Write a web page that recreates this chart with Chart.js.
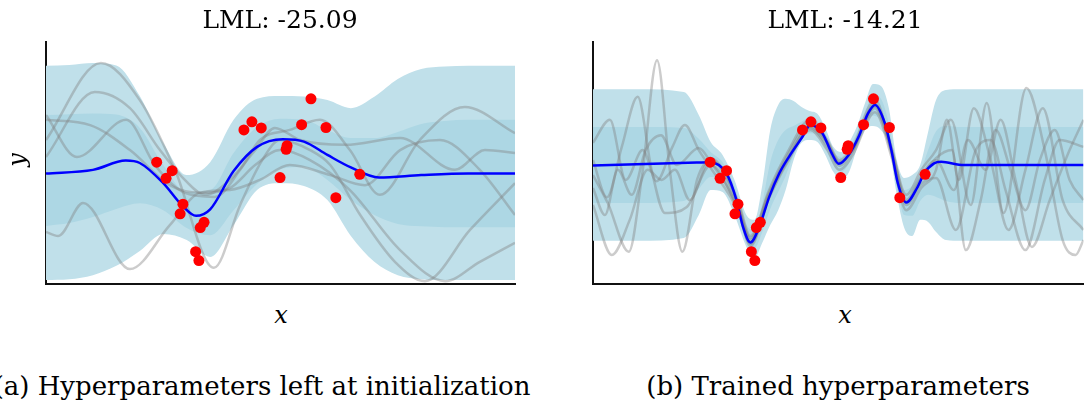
<!DOCTYPE html>
<html>
<head>
<meta charset="utf-8">
<script src="https://cdn.jsdelivr.net/npm/chart.js@4.4.0/dist/chart.umd.min.js"></script>
<style>
  body { margin: 0; background: #fff; width: 1089px; height: 405px; overflow: hidden; position: relative; font-family: 'DejaVu Serif', serif; color: #000; }
  .panel { position: absolute; top: 0; height: 300px; }
  .lbl { position: absolute; white-space: nowrap; line-height: 1; text-align: center; }
  .title { font-size: 25px; width: 300px; top: 7px; }
  .axis { font-size: 24px; font-style: italic; width: 40px; top: 303px; }
  .caption { font-size: 26px; top: 373px; }
</style>
</head>
<body>
<div class="panel" style="left:0;width:540px"><canvas id="chartA" width="540" height="300"></canvas></div>
<div class="panel" style="left:546px;width:543px"><canvas id="chartB" width="543" height="300"></canvas></div>

<div class="lbl title" style="left:130px">LML: -25.09</div>
<div class="lbl title" style="left:695px">LML: -14.21</div>
<div class="lbl axis" style="left:261px">x</div>
<div class="lbl axis" style="left:825px">x</div>
<div class="lbl axis" style="left:-3px;top:148px;transform:rotate(-90deg)">y</div>
<div class="lbl caption" style="left:-35px;width:594px">(a) Hyperparameters left at initialization</div>
<div class="lbl caption" style="left:588px;width:500px">(b) Trained hyperparameters</div>

<script>
// observations (shared by both panels)
const obsX = [2.36, 2.56, 2.69, 2.86, 2.92, 3.19, 3.26, 3.29, 3.37, 4.22, 4.39, 4.59, 4.99, 5.12, 5.14, 5.45, 5.65, 5.97, 6.18, 6.69];
const obsY = [0.02, -0.38, -0.19, -1.26, -1.02, -2.20, -2.42, -1.60, -1.47, 0.82, 1.02, 0.87, -0.36, 0.34, 0.43, 0.95, 1.59, 0.88, -0.86, -0.28];

// (a) initial hyperparameters
const gridA = [0, 0.5, 1, 1.5, 2, 2.5, 3, 3.5, 4, 4.5, 5, 5.5, 6, 6.5, 7, 7.5, 8, 8.5, 9, 9.5, 10];
const upper2A = [2.41, 2.43, 2.48, 2.42, 1.66, 0.50, -0.30, 0.02, 1.07, 1.59, 1.66, 1.65, 1.56, 1.36, 1.64, 2.08, 2.33, 2.39, 2.41, 2.41, 2.41];
const upper1A = [1.19, 1.21, 1.23, 1.20, 0.87, -0.05, -0.72, -0.67, 0.25, 0.89, 1.10, 1.07, 0.82, 0.62, 0.62, 0.77, 0.97, 1.04, 1.07, 1.07, 1.07];
const lower1A = [-1.56, -1.49, -1.34, -1.14, -1.00, -1.17, -1.61, -1.79, -1.17, -0.52, -0.15, -0.10, -0.42, -0.92, -1.29, -1.51, -1.57, -1.59, -1.59, -1.59, -1.59];
const lower2A = [-2.90, -2.88, -2.78, -2.55, -2.18, -1.76, -1.91, -2.33, -1.54, -0.67, -0.50, -0.57, -0.92, -1.81, -2.45, -2.78, -2.88, -2.90, -2.90, -2.90, -2.90];
const meanA = [[0, -0.26], [1, -0.17], [1.7, 0.06], [2.0, 0.0], [2.5, -0.50], [2.9, -1.05], [3.2, -1.31], [3.5, -1.15], [4.0, -0.20], [4.5, 0.40], [5.05, 0.59], [5.5, 0.53], [6.0, 0.20], [6.5, -0.11], [7.1, -0.36], [8, -0.30], [9, -0.26], [10, -0.26]];
const samplesA = [
    [[0, 0.57], [1.17, 2.48], [2.00, 1.56], [2.75, -0.17], [3.58, -2.60], [4.14, -1.04], [4.61, 0.07], [4.99, 0.57], [5.63, 0.32], [6.06, -0.05], [6.70, -1.29], [7.44, -2.45], [8.08, -2.93], [9.04, -1.66], [10, -0.50]],
    [[0, 0.15], [1.04, 1.76], [1.79, 1.36], [2.43, 0.32], [2.96, -0.42], [3.39, -0.79], [3.92, -0.42], [4.46, 0.32], [4.88, 0.87], [5.42, 0.57], [6.38, 0.45], [7.55, 0.62], [8.72, -0.17], [9.36, 0.32], [10, 0.25]],
    [[0, 1.19], [0.66, 0.15], [1.71, 1.07], [2.32, -0.05], [2.96, -0.74], [3.60, -0.84], [4.14, -0.17], [4.56, 0.57], [5.20, 0.82], [5.84, 1.07], [6.48, 0.32], [7.12, -0.79], [7.97, 0.57], [8.93, 1.39], [10, 0.74]],
    [[0, 1.07], [0.94, 0.94], [1.79, 0.32], [2.64, -0.55], [3.28, -0.74], [3.92, -0.62], [4.46, -0.05], [4.99, 0.32], [5.63, 0.07], [6.48, -0.67], [7.55, -2.16], [8.51, -2.93], [9.25, -2.45], [10, -1.98]],
    [[0, -1.71], [0.26, -1.81], [0.79, -0.99], [1.79, -2.63], [2.64, -1.54], [3.28, -0.74], [3.92, -0.67], [4.56, -0.42], [5.20, -0.05], [6.06, -0.30], [6.80, -0.55], [7.55, 0.32], [8.40, 0.57], [9.25, -0.17], [10, -1.29]]
];

// (b) trained hyperparameters
const gridB = [0, 0.94, 1.83, 2.13, 2.37, 2.61, 2.85, 3.09, 3.25, 3.41, 3.57, 3.73, 3.88, 4.04, 4.20, 4.36, 4.52, 4.68, 4.84, 5.00, 5.16, 5.32, 5.48, 5.64, 5.80, 5.96, 6.12, 6.27, 6.43, 6.59, 6.75, 6.91, 7.11, 7.41, 8.11, 9.88];
const upper2B = [1.83, 1.83, 1.76, 1.19, 0.52, 0.20, -0.42, -1.29, -1.41, -0.55, 0.82, 1.44, 1.59, 1.54, 1.39, 1.29, 1.22, 0.87, 0.40, 0.27, 0.52, 0.92, 1.49, 1.96, 1.91, 1.36, 0.07, -0.37, -0.30, -0.05, 0.77, 1.56, 1.81, 1.83, 1.83, 1.83];
const upper1B = [0.89, 0.89, 0.87, 0.60, 0.27, 0.02, -0.57, -1.54, -1.66, -0.99, 0.02, 0.57, 0.82, 0.92, 1.02, 1.12, 1.04, 0.72, 0.27, 0.15, 0.40, 0.77, 1.29, 1.69, 1.59, 0.97, -0.15, -0.67, -0.57, -0.25, 0.32, 0.79, 0.92, 0.89, 0.89, 0.89];
const lower1B = [-0.99, -0.99, -0.94, -0.64, -0.35, -0.45, -1.02, -1.93, -2.11, -1.71, -1.14, -0.72, -0.32, 0.20, 0.57, 0.74, 0.69, 0.37, -0.05, -0.22, 0, 0.47, 0.94, 1.17, 1.04, 0.50, -0.57, -1.29, -1.31, -0.94, -0.79, -0.84, -0.94, -0.99, -0.99, -0.99];
const lower2B = [-1.93, -1.93, -1.86, -1.29, -0.67, -0.72, -1.29, -2.08, -2.36, -1.98, -1.54, -1.17, -0.67, 0.07, 0.50, 0.57, 0.52, 0.20, -0.22, -0.42, -0.22, 0.37, 0.82, 0.92, 0.82, 0.42, -0.79, -1.61, -1.81, -1.41, -1.46, -1.71, -1.91, -1.93, -1.93, -1.93];
const meanB = [[0, -0.06], [2.09, 0.01], [2.35, 0.02], [2.69, -0.26], [2.89, -0.92], [3.02, -1.58], [3.17, -1.97], [3.35, -1.58], [3.55, -0.84], [3.75, -0.26], [3.95, 0.16], [4.22, 0.65], [4.38, 0.94], [4.62, 0.74], [4.81, 0.24], [4.95, -0.02], [5.15, 0.20], [5.35, 0.65], [5.54, 1.23], [5.68, 1.44], [5.88, 0.98], [6.01, 0.32], [6.14, -0.50], [6.31, -0.98], [6.54, -0.59], [6.67, -0.26], [6.87, -0.01], [7.01, 0.03], [7.47, -0.05], [9.88, -0.05]];
const samplesB = [
    [[0, -0.30], [0.30, -1.00], [0.72, -2.20], [1.00, -0.20], [1.29, 2.55], [1.55, -0.20], [1.80, -2.20], [2.10, -0.40], [2.37, 0.07], [2.93, -1.04], [3.17, -1.91], [3.53, -0.72], [3.92, 0.27], [4.38, 1.07], [4.72, 0.57], [4.96, 0.07], [5.22, 0.37], [5.68, 1.56], [6.02, 0.32], [6.31, -0.79], [6.61, -0.17], [6.91, 0.32], [7.21, 1.07], [7.61, -1.04], [7.93, 1.49], [8.27, -1.24], [8.73, 1.86], [9.10, 0.32], [9.46, -1.91], [9.72, -2.28], [9.88, -1.91]],
    [[0, 0.50], [0.34, 1.07], [0.66, -0.42], [1.00, 0.32], [1.28, -0.45], [1.60, 0.40], [1.85, 0.94], [2.13, 0.32], [2.37, -0.12], [2.93, -1.21], [3.17, -2.06], [3.53, -0.92], [3.92, 0.02], [4.38, 0.82], [4.72, 0.32], [4.96, -0.17], [5.22, 0.17], [5.68, 1.26], [6.02, 0.12], [6.31, -1.17], [6.61, -0.62], [6.91, -0.17], [7.13, 1.07], [7.37, -0.42], [7.67, 1.36], [8.01, 0.07], [8.37, -1.66], [8.71, -0.17], [9.06, 1.36], [9.46, -0.92], [9.88, -1.66]],
    [[0, 0.07], [0.28, -0.85], [0.58, 0.40], [0.90, 1.64], [1.18, -0.17], [1.45, -1.24], [1.89, -1.09], [2.37, -0.05], [2.93, -1.17], [3.17, -1.86], [3.53, -0.82], [3.92, 0.12], [4.38, 0.87], [4.72, 0.42], [4.96, -0.07], [5.22, 0.27], [5.68, 1.36], [6.02, 0.22], [6.31, -1.04], [6.61, -0.52], [6.91, -0.37], [7.31, -1.66], [7.71, 0.32], [8.01, 0.57], [8.31, -0.67], [8.71, -2.16], [9.10, -0.42], [9.40, 0.57], [9.88, 0.40]],
    [[0, -1.04], [0.38, -2.28], [0.74, -1.41], [1.10, -0.17], [1.38, -0.42], [1.65, -0.17], [1.95, -0.92], [2.37, 0.12], [2.93, -0.97], [3.17, -1.81], [3.53, -0.77], [3.92, 0.20], [4.38, 0.97], [4.72, 0.52], [4.96, 0.02], [5.22, 0.32], [5.68, 1.46], [6.02, 0.37], [6.31, -0.92], [6.61, -0.32], [6.91, 0.07], [7.27, -0.67], [7.55, 0.57], [7.91, -0.17], [8.21, 1.07], [8.51, -0.42], [8.84, -2.08], [9.20, -0.92], [9.60, 0.32], [9.88, 1.07]],
    [[0, -0.62], [0.24, -1.29], [0.50, -0.17], [0.78, -0.79], [1.06, 0.32], [1.37, 0.69], [1.69, -0.05], [2.13, 0.37], [2.37, 0.02], [2.93, -1.12], [3.17, -2.01], [3.53, -0.87], [3.92, 0.07], [4.38, 0.89], [4.72, 0.50], [4.96, 0], [5.22, 0.30], [5.68, 1.41], [6.02, 0.27], [6.31, -0.97], [6.61, -0.37], [6.91, 0.12], [7.23, 0.32], [7.51, -2.16], [7.81, -0.92], [8.11, 0.82], [8.41, -0.17], [8.71, -1.17], [9.00, 0.07], [9.30, 0.82], [9.60, -0.42], [9.88, -0.92]]
];

const colors = {
    outerBand: '#c0e0ea',
    innerBand: '#add7e4',
    sample: 'rgba(128, 128, 128, 0.4)',
    mean: '#0000ff',
    obs: '#ff0000'
};

const onGrid = (grid, ys) => grid.map((x, i) => ({ x, y: ys[i] }));
const fromPairs = pairs => pairs.map(p => ({ x: p[0], y: p[1] }));

function bandDataset(data, fill, color, order) {
    return {
        data, fill, order,
        backgroundColor: color,
        borderColor: 'rgba(0,0,0,0)',
        borderWidth: 0,
        pointRadius: 0,
        cubicInterpolationMode: 'monotone'
    };
}

function buildPanel(canvasId, p) {
    const ctx = document.getElementById(canvasId).getContext('2d');

    const datasets = [
        bandDataset(onGrid(p.grid, p.upper2), '+1', colors.outerBand, 12),
        bandDataset(onGrid(p.grid, p.lower2), false, colors.outerBand, 11),
        bandDataset(onGrid(p.grid, p.upper1), '+1', colors.innerBand, 10),
        bandDataset(onGrid(p.grid, p.lower1), false, colors.innerBand, 9)
    ];

    p.samples.forEach(s => datasets.push({
        data: fromPairs(s),
        borderColor: colors.sample,
        borderWidth: 2.5,
        pointRadius: 0,
        fill: false,
        order: 5,
        cubicInterpolationMode: 'monotone'
    }));

    datasets.push({
        data: fromPairs(p.mean),
        borderColor: colors.mean,
        borderWidth: 2.5,
        pointRadius: 0,
        fill: false,
        order: 2,
        cubicInterpolationMode: 'monotone'
    });

    datasets.push({
        data: obsX.map((x, i) => ({ x, y: obsY[i] })),
        showLine: false,
        pointRadius: 5.5,
        pointBackgroundColor: colors.obs,
        pointBorderWidth: 0,
        borderColor: colors.obs,
        order: 1
    });

    const spine = { display: true, color: '#111', width: 2 };

    return new Chart(ctx, {
        type: 'line',
        data: { datasets },
        options: {
            responsive: false,
            animation: false,
            layout: { padding: p.padding },
            plugins: { legend: { display: false }, tooltip: { enabled: false } },
            scales: {
                x: {
                    type: 'linear', min: 0, max: p.xMax, z: 1,
                    grid: { display: false }, ticks: { display: false }, border: spine,
                    afterFit: s => { s.height = 0; }
                },
                y: {
                    type: 'linear', min: -3, max: 3, z: 1,
                    grid: { display: false }, ticks: { display: false }, border: spine,
                    afterFit: s => { s.width = 0; }
                }
            }
        }
    });
}

buildPanel('chartA', {
    grid: gridA, upper2: upper2A, upper1: upper1A, lower1: lower1A, lower2: lower2A,
    mean: meanA, samples: samplesA, xMax: 10,
    padding: { left: 46, right: 25, top: 42, bottom: 16 }
});

buildPanel('chartB', {
    grid: gridB, upper2: upper2B, upper1: upper1B, lower1: lower1B, lower2: lower2B,
    mean: meanB, samples: samplesB, xMax: 9.88,
    padding: { left: 47, right: 0, top: 42, bottom: 16 }
});
</script>
</body>
</html>
